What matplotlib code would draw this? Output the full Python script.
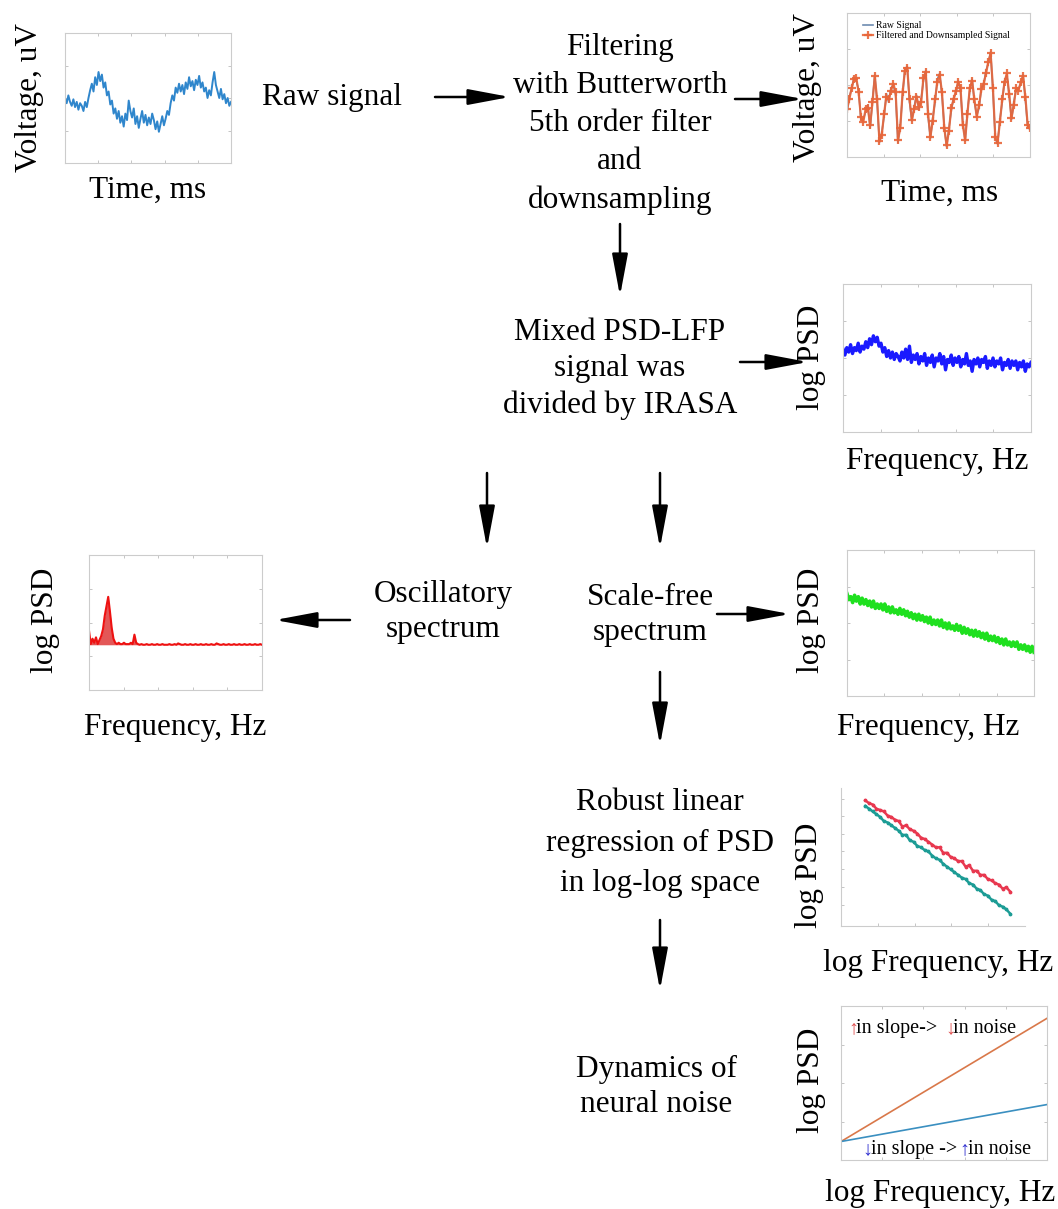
import matplotlib
matplotlib.use('Agg')
import matplotlib.pyplot as plt
import numpy as np

plt.rcParams['font.family'] = ['Liberation Serif', 'DejaVu Serif']

# ---------------- data (normalised values) ----------------
raw_signal = [0.50, 0.46, 0.52, 0.47, 0.44, 0.49, 0.43, 0.47, 0.41, 0.46,
              0.44, 0.40, 0.47, 0.43, 0.50, 0.56, 0.61, 0.55, 0.66, 0.60,
              0.70, 0.63, 0.68, 0.58, 0.62, 0.52, 0.55, 0.45, 0.48, 0.38,
              0.42, 0.34, 0.40, 0.31, 0.36, 0.28, 0.38, 0.33, 0.48, 0.40,
              0.35, 0.42, 0.30, 0.36, 0.27, 0.34, 0.40, 0.31, 0.37, 0.29,
              0.35, 0.30, 0.38, 0.33, 0.26, 0.32, 0.24, 0.30, 0.36, 0.29,
              0.34, 0.40, 0.37, 0.46, 0.52, 0.48, 0.58, 0.54, 0.61, 0.55,
              0.60, 0.53, 0.62, 0.57, 0.66, 0.59, 0.63, 0.56, 0.64, 0.60,
              0.67, 0.58, 0.62, 0.55, 0.58, 0.50, 0.56, 0.52, 0.62, 0.70,
              0.60, 0.55, 0.50, 0.57, 0.49, 0.53, 0.46, 0.50, 0.44, 0.47]

raw_signal_2 = [0.31, 0.42, 0.47, 0.55, 0.53, 0.47, 0.26, 0.26, 0.31, 0.36,
                0.20, 0.40, 0.57, 0.38, 0.10, 0.17, 0.28, 0.44, 0.38, 0.48,
                0.50, 0.43, 0.10, 0.22, 0.43, 0.61, 0.63, 0.38, 0.25, 0.35,
                0.43, 0.33, 0.40, 0.53, 0.60, 0.28, 0.13, 0.27, 0.38, 0.54,
                0.58, 0.43, 0.21, 0.07, 0.20, 0.32, 0.41, 0.44, 0.53, 0.46,
                0.24, 0.11, 0.32, 0.46, 0.54, 0.38, 0.29, 0.34, 0.48, 0.50,
                0.60, 0.65, 0.73, 0.46, 0.13, 0.09, 0.26, 0.38, 0.53, 0.57,
                0.43, 0.26, 0.38, 0.47, 0.47, 0.51, 0.57, 0.40, 0.21, 0.19]

filtered_signal = [0.33, 0.40, 0.48, 0.54, 0.55, 0.45, 0.28, 0.24, 0.33, 0.34,
                   0.22, 0.38, 0.56, 0.40, 0.11, 0.15, 0.30, 0.42, 0.40, 0.46,
                   0.51, 0.45, 0.12, 0.20, 0.45, 0.60, 0.62, 0.40, 0.26, 0.33,
                   0.42, 0.35, 0.38, 0.55, 0.59, 0.30, 0.14, 0.25, 0.40, 0.52,
                   0.57, 0.45, 0.20, 0.08, 0.18, 0.34, 0.40, 0.46, 0.52, 0.48,
                   0.22, 0.12, 0.30, 0.48, 0.53, 0.40, 0.28, 0.36, 0.47, 0.51,
                   0.58, 0.66, 0.72, 0.48, 0.14, 0.10, 0.24, 0.40, 0.52, 0.58,
                   0.44, 0.27, 0.36, 0.48, 0.46, 0.52, 0.56, 0.42, 0.22, 0.20]

psd_mixed = [0.56, 0.52, 0.57, 0.54, 0.59, 0.53, 0.57, 0.55, 0.60, 0.54,
             0.58, 0.56, 0.61, 0.57, 0.63, 0.59, 0.65, 0.61, 0.64, 0.58,
             0.60, 0.54, 0.57, 0.51, 0.55, 0.50, 0.54, 0.49, 0.53, 0.51,
             0.48, 0.54, 0.50, 0.56, 0.49, 0.58, 0.47, 0.52, 0.49, 0.53,
             0.46, 0.51, 0.48, 0.53, 0.45, 0.50, 0.47, 0.52, 0.44, 0.50,
             0.48, 0.53, 0.46, 0.51, 0.42, 0.49, 0.47, 0.52, 0.45, 0.50,
             0.47, 0.51, 0.44, 0.49, 0.46, 0.53, 0.45, 0.48, 0.41, 0.49,
             0.46, 0.50, 0.44, 0.49, 0.47, 0.51, 0.43, 0.48, 0.45, 0.50,
             0.44, 0.48, 0.46, 0.50, 0.42, 0.47, 0.45, 0.49, 0.43, 0.48,
             0.45, 0.48, 0.42, 0.47, 0.44, 0.48, 0.41, 0.46, 0.44, 0.47]

psd_oscillatory = [0.44, 0.34, 0.38, 0.35, 0.39, 0.34, 0.37, 0.40, 0.45, 0.55,
                   0.62, 0.69, 0.58, 0.46, 0.38, 0.35, 0.34, 0.35, 0.34, 0.34,
                   0.35, 0.34, 0.34, 0.34, 0.35, 0.34, 0.41, 0.35,
                   0.34, 0.335, 0.34, 0.335, 0.335, 0.34, 0.335, 0.335, 0.34, 0.335,
                   0.335, 0.34, 0.335, 0.335, 0.34, 0.335, 0.335, 0.335, 0.34, 0.335,
                   0.335, 0.34, 0.335, 0.345, 0.34, 0.335, 0.335, 0.34, 0.335, 0.335,
                   0.34, 0.335, 0.335, 0.34, 0.335, 0.335, 0.34, 0.335, 0.335, 0.34,
                   0.335, 0.335, 0.34, 0.335, 0.335, 0.345, 0.34, 0.335, 0.335, 0.34,
                   0.335, 0.335, 0.34, 0.335, 0.335, 0.34, 0.335, 0.335, 0.34, 0.335,
                   0.335, 0.34, 0.335, 0.335, 0.34, 0.335, 0.335, 0.34, 0.335, 0.335,
                   0.34, 0.335]

psd_scale_free = [0.70, 0.66, 0.68, 0.64, 0.69, 0.65, 0.68, 0.63, 0.67, 0.63,
                  0.66, 0.62, 0.65, 0.61, 0.65, 0.60, 0.63, 0.60, 0.63, 0.59,
                  0.63, 0.58, 0.61, 0.57, 0.61, 0.57, 0.59, 0.56, 0.60, 0.56,
                  0.59, 0.55, 0.58, 0.54, 0.57, 0.53, 0.56, 0.52, 0.56, 0.52,
                  0.55, 0.51, 0.54, 0.50, 0.54, 0.49, 0.52, 0.49, 0.52, 0.48,
                  0.52, 0.47, 0.50, 0.46, 0.50, 0.46, 0.48, 0.45, 0.49, 0.45,
                  0.48, 0.43, 0.47, 0.43, 0.46, 0.42, 0.45, 0.41, 0.45, 0.41,
                  0.44, 0.40, 0.43, 0.39, 0.43, 0.38, 0.41, 0.38, 0.41, 0.37,
                  0.40, 0.36, 0.39, 0.35, 0.39, 0.35, 0.37, 0.34, 0.37, 0.34,
                  0.37, 0.32, 0.35, 0.32, 0.35, 0.31, 0.34, 0.30, 0.34, 0.30]

loglog_freq_range = [0.132, 0.919]
loglog_red = [0.91, 0.89, 0.88, 0.85, 0.84, 0.83, 0.80, 0.79, 0.77, 0.76,
              0.72, 0.73, 0.70, 0.69, 0.67, 0.64, 0.63, 0.61, 0.59, 0.57,
              0.57, 0.53, 0.53, 0.50, 0.49, 0.47, 0.47, 0.43, 0.44, 0.40,
              0.40, 0.37, 0.37, 0.34, 0.33, 0.31, 0.30, 0.27, 0.28, 0.25]
loglog_teal = [0.87, 0.85, 0.83, 0.81, 0.79, 0.76, 0.75, 0.73, 0.71, 0.69,
               0.66, 0.66, 0.62, 0.61, 0.58, 0.57, 0.55, 0.54, 0.51, 0.49,
               0.48, 0.45, 0.43, 0.41, 0.39, 0.37, 0.35, 0.34, 0.31, 0.30,
               0.27, 0.26, 0.23, 0.22, 0.19, 0.18, 0.15, 0.14, 0.12, 0.09]

noise_x = [0.0, 1.0]
noise_steep = [0.12, 0.92]
noise_flat = [0.12, 0.36]

# ---------------- layout helpers ----------------
W, H = 1058, 1209
FS = 22.5
fig = plt.figure(figsize=(W / 100, H / 100), dpi=100)


def box(x0, y0, x1, y1):
    return fig.add_axes([x0 / W, 1 - y1 / H, (x1 - x0) / W, (y1 - y0) / H])


def style(ax, full=True):
    ax.set_xlim(0, 1)
    ax.set_ylim(0, 1)
    for s in ax.spines.values():
        s.set_color('#cccccc')
        s.set_linewidth(0.8)
    if not full:
        ax.spines['top'].set_visible(False)
        ax.spines['right'].set_visible(False)
    ax.tick_params(direction='in', length=2.5, width=0.6, color='#bbbbbb',
                   labelbottom=False, labelleft=False, top=full, right=full)
    ax.set_xticks([0.2, 0.4, 0.6, 0.8])
    ax.set_yticks([0.25, 0.5, 0.75])


# overlay in pixel coordinates
ov = fig.add_axes([0, 0, 1, 1])
ov.set_xlim(0, W)
ov.set_ylim(H, 0)
ov.axis('off')


def txt(s, x, y, rot=0, **kw):
    ov.text(x, y, s, fontsize=FS, ha='center', va='center', rotation=rot, **kw)


def arrow(x0, y0, x1, y1):
    ov.annotate('', xy=(x1, y1), xytext=(x0, y0),
                arrowprops=dict(arrowstyle='-|>,head_length=1.6,head_width=0.3',
                                lw=1.8, color='black', mutation_scale=16,
                                shrinkA=0, shrinkB=0))


# ---------------- panels ----------------
# 1 raw signal
a1 = box(65, 33, 231, 163)
style(a1)
a1.plot(np.linspace(0, 1, len(raw_signal)), raw_signal, color='#2f86cc', lw=1.4)

# 2 filtered / downsampled
a2 = box(847, 13, 1030, 157)
style(a2)
a2.plot(np.linspace(0, 1, len(raw_signal_2)), raw_signal_2, color='#6d8bb0', lw=1.2,
        label='Raw Signal')
a2.plot(np.linspace(0, 1, len(filtered_signal)), filtered_signal, ls='-', lw=1.6,
        marker='+', ms=6, mew=1.6, color='#e8663a', alpha=0.9,
        label='Filtered and Downsampled Signal')
a2.legend(loc='upper left', bbox_to_anchor=(0.05, 0.99), fontsize=7, frameon=False,
          handlelength=1.0, borderpad=0.2, labelspacing=0.1, handletextpad=0.3)

# 3 mixed PSD
a3 = box(843, 284, 1031, 432)
style(a3)
a3.plot(np.linspace(0, 1, len(psd_mixed)), psd_mixed, color='#1a1aff', lw=2.4)

# 4 oscillatory
a4 = box(89, 555, 262, 690)
style(a4)
xo = np.linspace(0, 1, len(psd_oscillatory))
a4.fill_between(xo, min(psd_oscillatory), psd_oscillatory, color='#d81010', alpha=0.7, lw=0)
a4.plot(xo, psd_oscillatory, color='#ee1111', lw=1.5)

# 5 scale free
a5 = box(847, 550, 1034, 696)
style(a5)
a5.plot(np.linspace(0, 1, len(psd_scale_free)), psd_scale_free, color='#1fe01f', lw=2.6)

# 6 log-log regression
a6 = box(841, 788, 1025, 926)
style(a6, full=False)
a6.set_yticks([0.15, 0.28, 0.41, 0.54, 0.67, 0.80, 0.92])
xl = np.linspace(loglog_freq_range[0], loglog_freq_range[1], len(loglog_red))
a6.plot(xl, loglog_red, color='#e8384f', lw=1.8, marker='.', ms=3.5)
a6.plot(xl, loglog_teal, color='#1c9c95', lw=1.8, marker='.', ms=3.5)

# 7 noise dynamics
a7 = box(841, 1006, 1047, 1160)
style(a7)
a7.plot(noise_x, noise_steep, color='#d9784a', lw=1.2)
a7.plot(noise_x, noise_flat, color='#3a8fc0', lw=1.2)
fs_small = 14.5
a7.text(0.035, 0.855, '\u2191', color='#e05050', fontsize=fs_small, va='center', ha='left')
a7.text(0.075, 0.855, 'in slope->', color='black', fontsize=fs_small, va='center', ha='left')
a7.text(0.505, 0.855, '\u2193', color='#e05050', fontsize=fs_small, va='center', ha='left')
a7.text(0.545, 0.855, 'in noise', color='black', fontsize=fs_small, va='center', ha='left')
a7.text(0.105, 0.07, '\u2193', color='#3030d0', fontsize=fs_small, va='center', ha='left')
a7.text(0.145, 0.07, 'in slope ->', color='black', fontsize=fs_small, va='center', ha='left')
a7.text(0.575, 0.07, '\u2191', color='#3030d0', fontsize=fs_small, va='center', ha='left')
a7.text(0.615, 0.07, 'in noise', color='black', fontsize=fs_small, va='center', ha='left')

# ---------------- labels ----------------
txt('Voltage, uV', 30, 98, rot=90)
txt('Time, ms', 148, 190)
txt('Voltage, uV', 808, 88, rot=90)
txt('Time, ms', 940, 193)
txt('log PSD', 812, 357, rot=90)
txt('Frequency, Hz', 937, 462)
txt('log PSD', 45, 620, rot=90)
txt('Frequency, Hz', 175, 728)
txt('log PSD', 812, 620, rot=90)
txt('Frequency, Hz', 928, 728)
txt('log PSD', 810, 875, rot=90)
txt('log Frequency, Hz', 938, 963)
txt('log PSD', 812, 1080, rot=90)
txt('log Frequency, Hz', 940, 1193)

# ---------------- flowchart text ----------------
txt('Raw signal', 332, 97)
txt('Filtering\nwith Butterworth\n5th order filter\nand\ndownsampling', 620, 124, linespacing=1.41)
txt('Mixed PSD-LFP\nsignal was\ndivided by IRASA', 620, 369, linespacing=1.34)
txt('Oscillatory\nspectrum', 443, 612, linespacing=1.27)
txt('Scale-free\nspectrum', 650, 615, linespacing=1.27)
txt('Robust linear\nregression of PSD\nin log-log space', 660, 843, linespacing=1.5)
txt('Dynamics of\nneural noise', 656, 1087, linespacing=1.3)

# ---------------- arrows ----------------
arrow(435, 97, 510, 97)
arrow(735, 99, 803, 99)
arrow(620, 224, 620, 296)
arrow(740, 362, 808, 362)
arrow(487, 473, 487, 548)
arrow(660, 473, 660, 548)
arrow(350, 620, 275, 620)
arrow(717, 614, 790, 614)
arrow(660, 672, 660, 745)
arrow(660, 920, 660, 990)

fig.savefig('out.png', dpi=100)
